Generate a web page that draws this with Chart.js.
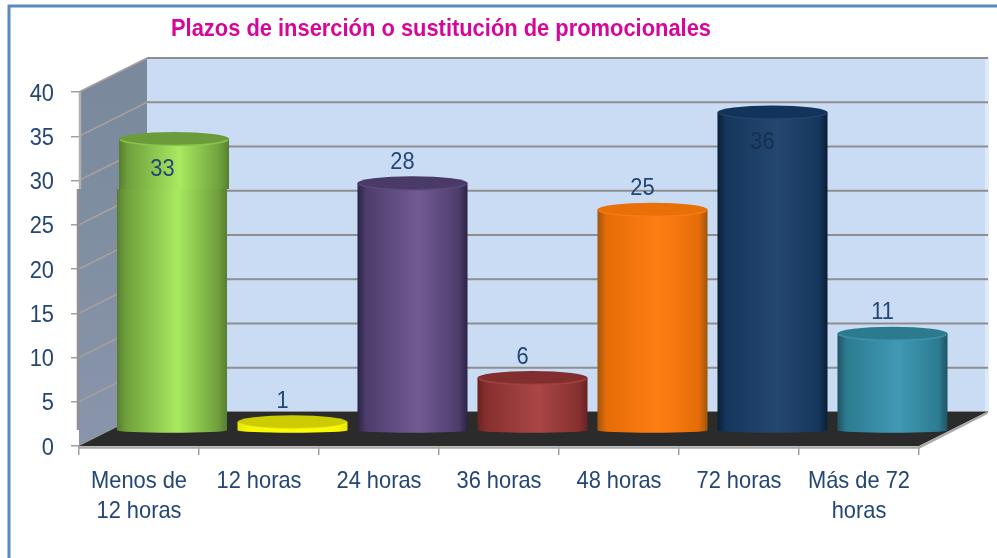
<!DOCTYPE html>
<html>
<head>
<meta charset="utf-8">
<title>Plazos de inserción o sustitución de promocionales</title>
<script src="https://cdn.jsdelivr.net/npm/chart.js@4/dist/chart.umd.min.js"></script>
<style>
html,body{margin:0;padding:0;background:#fff;}
canvas{display:block;}
</style>
</head>
<body>
<canvas id="mycanvas" width="997" height="558"></canvas>
<script>
var titulo = "Plazos de inserción o sustitución de promocionales";
var categories = [["Menos de","12 horas"],"12 horas","24 horas","36 horas","48 horas","72 horas",["Más de 72","horas"]];
var values = [33,1,28,6,25,36,11];

// colores de cada cilindro: borde, cuerpo, luz, tapa, filo de la tapa
var edgeColors = ["#567f30","#e6e600","#2d2345","#6a2222","#a0560c","#0a1f36","#1f5464"];
var midColors = ["#6f9f3c","#f5f500","#4c3d6c","#872f2f","#e56c08","#15375e","#2c7b90"];
var lightColors = ["#a8ea60","#ffff00","#725b92","#aa4646","#ff7e12","#24476f","#4199b6"];
var capColors = ["#6b9b3a","#cccc00","#493a68","#832e2e","#e96f08","#13345a","#2b7a8e"];
var rimColors = ["#a4e45c","#ffff33","#6a5488","#b05050","#ff8a20","#2a4f7a","#4aa4c0"];

var textColor = "#234675";
var labelColors = [textColor,textColor,textColor,textColor,textColor,"#14304f",textColor];
var depthX = 68, depthY = 34;       // fondo de la caja 3D
var barDepthX = 33.5, barDepthY = 15; // los cilindros van a media caja
var seamY = 189;                    // corte de la imagen original
var font = '"Liberation Sans",Arial,sans-serif';

function cylinder(ctx, i, bar){
	var cx = bar.x + barDepthX, w = bar.width, top = bar.y - barDepthY, base = bar.base - barDepthY;
	var l = cx - w/2, r = cx + w/2;
	var g = ctx.createLinearGradient(l,0,r,0);
	g.addColorStop(0,edgeColors[i]);
	g.addColorStop(0.08,midColors[i]);
	g.addColorStop(0.55,lightColors[i]);
	g.addColorStop(0.92,midColors[i]);
	g.addColorStop(1,edgeColors[i]);
	ctx.beginPath();
	ctx.moveTo(l,top);
	ctx.lineTo(l,base);
	ctx.ellipse(cx,base,w/2,2.5,0,Math.PI,0,true);
	ctx.lineTo(r,top);
	ctx.closePath();
	ctx.fillStyle = g;
	ctx.fill();
	ctx.beginPath();
	ctx.ellipse(cx,top,w/2,7,0,0,Math.PI*2);
	ctx.fillStyle = capColors[i];
	ctx.fill();
	ctx.beginPath();
	ctx.ellipse(cx,top,w/2-0.5,6.5,0,Math.PI*0.95,Math.PI*0.05,true);
	ctx.globalAlpha = 0.55;
	ctx.strokeStyle = rimColors[i];
	ctx.lineWidth = 1.5;
	ctx.stroke();
	ctx.globalAlpha = 1;
}

// el primer cilindro esta partido en la imagen original
function cylinderCut(ctx, i, bar, chart){
	ctx.save();
	ctx.beginPath();
	ctx.rect(0,0,chart.width,seamY);
	ctx.clip();
	ctx.translate(1.5,0);
	cylinder(ctx,i,bar);
	ctx.restore();
	ctx.save();
	ctx.beginPath();
	ctx.rect(0,seamY,chart.width,chart.height-seamY);
	ctx.clip();
	ctx.translate(-0.5,0);
	cylinder(ctx,i,bar);
	ctx.restore();
}

var box3d = {
	id:"box3d",
	beforeDraw:function(chart){
		var ctx = chart.ctx;
		ctx.save();
		// marco azul
		ctx.strokeStyle = "#5b87c2";
		ctx.lineWidth = 3;
		ctx.beginPath();
		ctx.moveTo(9,558);
		ctx.lineTo(9,6);
		ctx.lineTo(997,6);
		ctx.stroke();
		// titulo
		ctx.fillStyle = "#d6069a";
		ctx.font = "bold 24px "+font;
		ctx.textAlign = "left";
		ctx.textBaseline = "alphabetic";
		ctx.fillText(titulo,171,36,540);
		ctx.restore();
	},
	beforeDatasetsDraw:function(chart){
		var ctx = chart.ctx, a = chart.chartArea, ys = chart.scales.y;
		ctx.save();
		// pared del fondo
		ctx.fillStyle = "#cadcf4";
		ctx.fillRect(a.left+depthX,a.top-depthY,a.right-a.left,a.bottom-a.top);
		ctx.fillStyle = "#dfeafa";
		ctx.fillRect(a.right+depthX-2,a.top-depthY,4,a.bottom-a.top);
		// pared izquierda
		var g = ctx.createLinearGradient(0,a.top,0,a.bottom);
		g.addColorStop(0,"#7b899d");
		g.addColorStop(1,"#8895aa");
		ctx.fillStyle = g;
		ctx.beginPath();
		ctx.moveTo(a.left,a.top);
		ctx.lineTo(a.left+depthX,a.top-depthY);
		ctx.lineTo(a.left+depthX,a.bottom-depthY);
		ctx.lineTo(a.left,a.bottom);
		ctx.closePath();
		ctx.fill();
		// lineas de division
		ys.ticks.forEach(function(t){
			var y = ys.getPixelForValue(t.value);
			ctx.beginPath();
			ctx.moveTo(a.left,y);
			ctx.lineTo(a.left+depthX,y-depthY);
			ctx.strokeStyle = "#a5a19d";
			ctx.lineWidth = 1.5;
			ctx.stroke();
			ctx.beginPath();
			ctx.moveTo(a.left+depthX,y-depthY);
			ctx.lineTo(a.right+depthX+1,y-depthY);
			ctx.strokeStyle = "#8e8e8e";
			ctx.lineWidth = 2;
			ctx.stroke();
		});
		// suelo
		ctx.fillStyle = "#2b2b2b";
		ctx.beginPath();
		ctx.moveTo(a.left,a.bottom);
		ctx.lineTo(a.right,a.bottom);
		ctx.lineTo(a.right+depthX,a.bottom-depthY);
		ctx.lineTo(a.left+depthX,a.bottom-depthY);
		ctx.closePath();
		ctx.fill();
		// cantos
		ctx.lineWidth = 2.5;
		ctx.strokeStyle = "#b0b0b0";
		ctx.beginPath();
		ctx.moveTo(a.left+1,a.top);
		ctx.lineTo(a.left+1,seamY);
		ctx.stroke();
		ctx.strokeStyle = "#909090";
		ctx.beginPath();
		ctx.moveTo(a.left-1,seamY);
		ctx.lineTo(a.left-1,a.bottom-16);
		ctx.stroke();
		ctx.strokeStyle = "#a8a8a8";
		ctx.beginPath();
		ctx.moveTo(a.left,a.bottom+1.5);
		ctx.lineTo(a.right,a.bottom+1.5);
		ctx.lineTo(a.right+depthX,a.bottom-depthY+1);
		ctx.stroke();
		ctx.restore();
	},
	afterDatasetsDraw:function(chart){
		var ctx = chart.ctx;
		var bars = chart.getDatasetMeta(0).data;
		ctx.save();
		bars.forEach(function(bar,i){
			if(bar.y - barDepthY < seamY && bar.x < chart.chartArea.left + 120){
				cylinderCut(ctx,i,bar,chart);
			}else{
				cylinder(ctx,i,bar);
			}
		});
		// etiquetas de valor: encima del cilindro, dentro si es muy alto
		ctx.font = "24px "+font;
		ctx.textAlign = "center";
		ctx.textBaseline = "middle";
		bars.forEach(function(bar,i){
			var top = bar.y - barDepthY;
			var y = values[i] > 30 ? top + 28 : top - 23;
			ctx.fillStyle = labelColors[i];
			ctx.fillText(String(values[i]),bar.x + barDepthX - 10,y);
		});
		ctx.restore();
	}
};

var ctx = document.getElementById("mycanvas").getContext("2d");

// el texto del original va algo estrechado y 2px mas abajo
var nativeFillText = ctx.fillText;
ctx.fillText = function(t,x,y,maxW){
	var w = maxW || this.measureText(t).width*0.91;
	var dy = this.textBaseline == "middle" ? 2 : 0;
	nativeFillText.call(this,t,x,y+dy,w);
};

var barGraph = new Chart(ctx,{
	type:"bar",
	plugins:[box3d],
	data:{
		labels:categories,
		datasets:[{
			label:"Promocionales",
			data:values,
			backgroundColor:"rgba(0,0,0,0)",
			categoryPercentage:1,
			barPercentage:0.917
		}]
	},
	options:{
		responsive:false,
		animation:false,
		layout:{padding:{left:0,right:78,top:92,bottom:0}},
		plugins:{legend:{display:false},tooltip:{enabled:false}},
		scales:{
			x:{
				afterFit:function(s){s.height = 112;},
				border:{display:false},
				grid:{drawOnChartArea:false,drawTicks:true,tickLength:9,color:"#a0a0a0",lineWidth:1.5},
				ticks:{
					color:textColor,
					maxRotation:0,
					autoSkip:false,
					padding:9,
					font:{family:font,size:24,lineHeight:1.25}
				}
			},
			y:{
				min:0,
				max:40,
				afterFit:function(s){s.width = 79;},
				border:{display:false},
				grid:{drawOnChartArea:false,drawTicks:true,tickLength:8,color:"#a0a0a0",lineWidth:1.5},
				ticks:{
					stepSize:5,
					color:textColor,
					padding:17,
					font:{family:font,size:24}
				}
			}
		}
	}
});
</script>
</body>
</html>
